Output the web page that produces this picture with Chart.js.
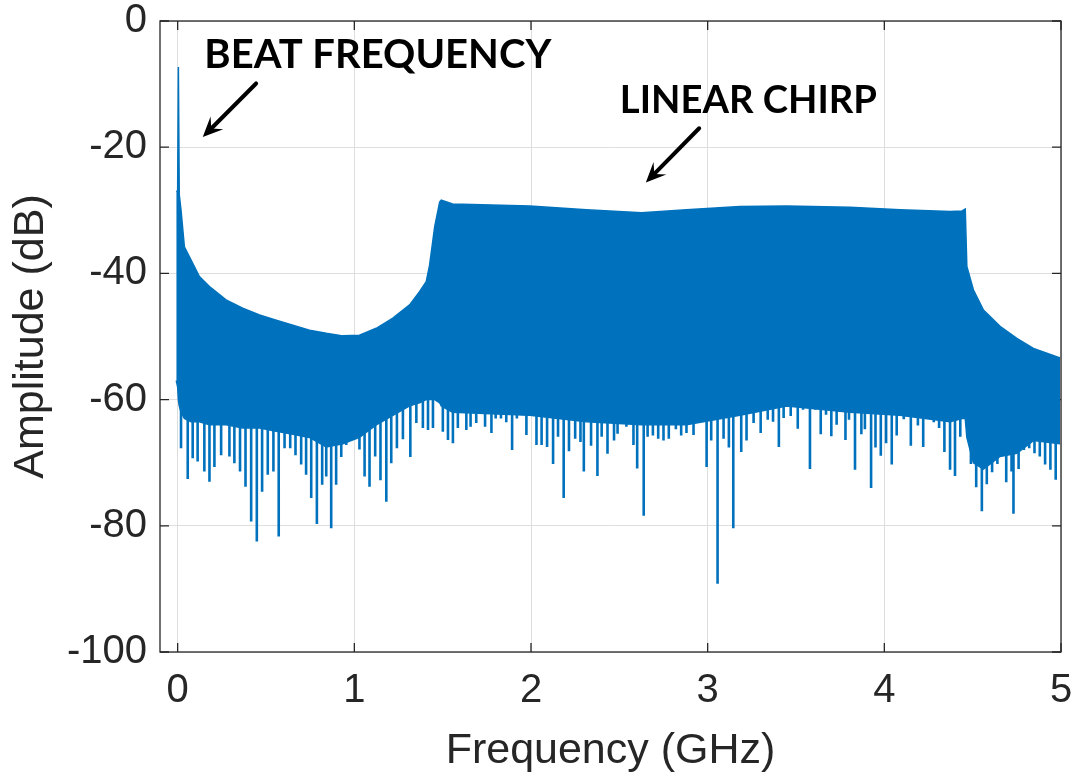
<!DOCTYPE html>
<html>
<head>
<meta charset="utf-8">
<script src="https://cdn.jsdelivr.net/npm/chart.js@4"></script>
<style>
html, body { margin: 0; padding: 0; background: #fff; }
#wrap { width: 1073px; height: 778px; }
</style>
</head>
<body>
<div id="wrap"><canvas id="spectrum" width="1073" height="778"></canvas></div>
<script>
// spectrum envelope (GHz / dB)
const freq = [
    -0.008, 0.0, 0.004, 0.009, 0.019, 0.038, 0.076, 0.123, 0.18, 0.274,
    0.368, 0.463, 0.558, 0.652, 0.746, 0.841, 0.935, 1.029, 1.124, 1.218,
    1.313, 1.369, 1.407, 1.426, 1.455, 1.483, 1.492, 1.556, 1.993, 2.314,
    2.626, 2.88, 3.182, 3.447, 3.806, 4.089, 4.373, 4.44, 4.458, 4.467,
    4.504, 4.561, 4.655, 4.75, 4.844, 4.995
];
const upperDb = [
    -27, -27, -7.3, -27.5, -30, -35.8, -37.9, -40.5, -42.1, -44.2,
    -45.5, -46.6, -47.4, -48.2, -49.0, -49.5, -49.9, -49.8, -48.7, -47.1,
    -45.0, -42.9, -41.3, -38.7, -32.6, -28.7, -28.4, -29.0, -29.3, -29.9,
    -30.4, -29.9, -29.4, -29.3, -29.5, -29.9, -30.2, -30.1, -29.8, -38.9,
    -42.6, -45.8, -48.4, -50.3, -51.9, -53.4
];
const lowerDb = [
    -57, -58, -60, -61, -62, -63, -63.5, -63.5, -64, -64,
    -64.5, -64.5, -65, -65.5, -66, -67.5, -67, -66, -64, -62.5,
    -61, -60.5, -60, -60, -60, -60.5, -61, -62, -62.5, -63.5,
    -64, -64, -62.5, -61, -62, -62.5, -63.5, -63, -63, -66,
    -70, -71, -69, -68.5, -66.5, -67
];

// downward spikes under the noise floor
const spikeFreq = [
    0.019, 0.057, 0.085, 0.113, 0.151, 0.180, 0.208, 0.246, 0.293, 0.321,
    0.353, 0.384, 0.416, 0.448, 0.478, 0.510, 0.542, 0.572, 0.605, 0.637,
    0.667, 0.699, 0.727, 0.756, 0.788, 0.818, 0.841, 0.869, 0.897, 0.926,
    0.954, 0.992, 1.029, 1.058, 1.086, 1.118, 1.148, 1.181, 1.209, 1.241,
    1.275, 1.317, 1.351, 1.388, 1.417, 1.445, 1.501, 1.530, 1.558, 1.586,
    1.634, 1.658, 1.69, 1.74, 1.776, 1.80, 1.83, 1.86, 1.893, 1.92,
    1.974, 2.031, 2.06, 2.091, 2.125, 2.153, 2.185, 2.215, 2.25, 2.28,
    2.299, 2.34, 2.376, 2.40, 2.433, 2.47, 2.49, 2.54, 2.58, 2.601,
    2.638, 2.66, 2.69, 2.72, 2.75, 2.78, 2.82, 2.85, 2.88, 2.92,
    2.994, 3.02, 3.056, 3.09, 3.12, 3.145, 3.19, 3.22, 3.26, 3.30,
    3.34, 3.37, 3.403, 3.43, 3.47, 3.51, 3.54, 3.579, 3.61, 3.64,
    3.67, 3.70, 3.73, 3.78, 3.80, 3.834, 3.87, 3.89, 3.925, 3.95,
    3.98, 4.01, 4.042, 4.07, 4.11, 4.15, 4.19, 4.22, 4.25, 4.28,
    4.31, 4.34, 4.372, 4.40, 4.43, 4.46, 4.49, 4.52, 4.552, 4.58,
    4.61, 4.64, 4.67, 4.69, 4.72, 4.731, 4.76, 4.79, 4.82, 4.85,
    4.88, 4.91, 4.94, 4.97
];
const spikeMinDb = [
    -67.7, -72.6, -69.3, -69.8, -71.4, -73.0, -70.7, -68.8, -69.0, -70.1,
    -71.4, -73.8, -79.3, -82.5, -74.6, -71.9, -71.4, -81.7, -67.7, -67.7,
    -68.8, -70.3, -71.9, -75.6, -79.7, -73.5, -72.2, -80.4, -73.5, -69.1,
    -67.2, -66.4, -67.9, -72.2, -73.8, -69.0, -72.8, -76.2, -70.1, -67.7,
    -66.3, -69.1, -63.7, -64.5, -64.8, -64.5, -65.1, -66.4, -66.9, -64.5,
    -64.8, -64.3, -63.7, -64.3, -65.3, -63.0, -63.0, -63.6, -68.0, -63.0,
    -65.6, -67.2, -67.2, -67.5, -70.2, -65.9, -75.6, -68.2, -66.2, -66.7,
    -71.4, -67.3, -72.1, -65.9, -68.6, -66.5, -65.4, -64.3, -67.2, -70.9,
    -78.4, -65.9, -65.7, -66.2, -66.5, -66.2, -64.7, -65.7, -65.3, -65.6,
    -70.7, -66.5, -89.2, -66.2, -67.6, -80.4, -68.3, -66.5, -63.7, -65.3,
    -63.2, -63.5, -67.5, -62.9, -62.6, -64.6, -61.6, -71.0, -61.6, -65.5,
    -62.4, -65.8, -64.0, -66.4, -63.2, -71.1, -65.5, -64.7, -74.0, -67.6,
    -68.9, -66.9, -70.3, -65.7, -63.1, -67.3, -64.1, -67.5, -62.0, -63.6,
    -64.5, -68.3, -71.1, -72.1, -65.9, -62.0, -70.2, -73.9, -77.7, -73.4,
    -71.5, -70.2, -68.9, -73.1, -71.4, -78.1, -71.0, -68.0, -67.7, -68.5,
    -69.0, -70.3, -71.1, -72.7
];
const spikeTopDb = -56;

const xTicks = [0, 1, 2, 3, 4, 5];
const yTicks = [0, -20, -40, -60, -80, -100];

const blue = '#0072BD';
const ink = '#262626';

const notes = [
    { text: 'BEAT FREQUENCY', x: 0.151, y: -7.5, width: 347, from: [0.444, -9.9], to: [0.142, -18.4] },
    { text: 'LINEAR CHIRP', x: 2.503, y: -14.6, width: 257, from: [2.952, -17.0], to: [2.650, -25.6] }
];

const spikeData = [];
spikeFreq.forEach((f, i) => {
    spikeData.push({ x: f, y: spikeTopDb }, { x: f, y: spikeMinDb[i] }, { x: f, y: null });
});

function drawArrow(ctx, x1, y1, x2, y2) {
    const ang = Math.atan2(y2 - y1, x2 - x1);
    const head = 22, spread = 0.42;
    ctx.lineWidth = 4;
    ctx.lineCap = 'round';
    ctx.beginPath();
    ctx.moveTo(x1, y1);
    ctx.lineTo(x2 - 10 * Math.cos(ang), y2 - 10 * Math.sin(ang));
    ctx.stroke();
    ctx.beginPath();
    ctx.moveTo(x2, y2);
    ctx.lineTo(x2 - head * Math.cos(ang - spread), y2 - head * Math.sin(ang - spread));
    ctx.lineTo(x2 - head * 0.55 * Math.cos(ang), y2 - head * 0.55 * Math.sin(ang));
    ctx.lineTo(x2 - head * Math.cos(ang + spread), y2 - head * Math.sin(ang + spread));
    ctx.closePath();
    ctx.fill();
}

const axesBox = {
    id: 'axesBox',
    beforeDatasetsDraw(chart) {
        const { ctx, chartArea: a, scales: { x, y } } = chart;
        ctx.save();
        ctx.strokeStyle = ink;
        ctx.lineWidth = 1.3;
        ctx.beginPath();
        xTicks.forEach(v => {
            const px = x.getPixelForValue(v);
            ctx.moveTo(px, a.bottom); ctx.lineTo(px, a.bottom - 9);
            ctx.moveTo(px, a.top); ctx.lineTo(px, a.top + 9);
        });
        yTicks.forEach(v => {
            const py = y.getPixelForValue(v);
            ctx.moveTo(a.left, py); ctx.lineTo(a.left + 9, py);
            ctx.moveTo(a.right, py); ctx.lineTo(a.right - 9, py);
        });
        ctx.stroke();
        ctx.restore();
    },
    afterDatasetsDraw(chart) {
        const { ctx, chartArea: a, scales: { x, y } } = chart;
        ctx.save();
        ctx.strokeStyle = ink;
        ctx.lineWidth = 1.3;
        ctx.strokeRect(a.left, a.top, a.right - a.left, a.bottom - a.top);

        ctx.fillStyle = '#000';
        ctx.strokeStyle = '#000';
        ctx.textBaseline = 'alphabetic';
        ctx.textAlign = 'left';
        notes.forEach(n => {
            ctx.font = 'bold 40px Lato';
            const size = 40 * n.width / ctx.measureText(n.text).width;
            ctx.font = 'bold ' + size.toFixed(1) + 'px Lato';
            ctx.fillText(n.text, x.getPixelForValue(n.x), y.getPixelForValue(n.y));
            drawArrow(ctx,
                x.getPixelForValue(n.from[0]), y.getPixelForValue(n.from[1]),
                x.getPixelForValue(n.to[0]), y.getPixelForValue(n.to[1]));
        });
        ctx.restore();
    }
};

const tickFont = { family: 'Liberation Sans, Arial, sans-serif', size: 40, lineHeight: 1 };
const titleFont = { family: 'Liberation Sans, Arial, sans-serif', size: 43 };

const config = {
    type: 'line',
    data: {
        datasets: [
            {
                data: freq.map((f, i) => ({ x: f, y: lowerDb[i] })),
                borderColor: blue,
                borderWidth: 1.5,
                pointRadius: 0,
                fill: false,
                tension: 0
            },
            {
                data: freq.map((f, i) => ({ x: f, y: upperDb[i] })),
                borderColor: blue,
                backgroundColor: blue,
                borderWidth: 1.5,
                pointRadius: 0,
                fill: '-1',
                tension: 0
            },
            {
                data: spikeData,
                borderColor: blue,
                borderWidth: 2.6,
                borderCapStyle: 'butt',
                pointRadius: 0,
                fill: false,
                spanGaps: false,
                tension: 0
            }
        ]
    },
    options: {
        responsive: false,
        animation: false,
        devicePixelRatio: 1,
        layout: { padding: { top: 21, right: 12, left: 0, bottom: 0 } },
        plugins: {
            legend: { display: false },
            tooltip: { enabled: false }
        },
        scales: {
            x: {
                type: 'linear',
                min: -0.1,
                max: 5,
                afterBuildTicks: s => { s.ticks = xTicks.map(v => ({ value: v })); },
                afterFit: s => { s.height = 126; s.paddingLeft = 0; s.paddingRight = 0; },
                ticks: { color: ink, font: tickFont, padding: 19, maxRotation: 0 },
                grid: { color: '#dedede', lineWidth: 1, drawTicks: false },
                border: { display: false },
                title: { display: true, text: 'Frequency (GHz)', color: ink, font: titleFont, padding: { top: 0, bottom: 1 } }
            },
            y: {
                min: -100,
                max: 0,
                afterBuildTicks: s => { s.ticks = yTicks.map(v => ({ value: v })); },
                afterFit: s => { s.width = 160; s.paddingTop = 0; s.paddingBottom = 0; },
                ticks: { color: ink, font: tickFont, padding: 13 },
                grid: { color: '#dedede', lineWidth: 1, drawTicks: false },
                border: { display: false },
                title: { display: true, text: 'Amplitude (dB)', color: ink, font: titleFont, padding: { top: 5, bottom: 0 } }
            }
        }
    },
    plugins: [axesBox]
};

const spectrumChart = new Chart(document.getElementById('spectrum'), config);
</script>
</body>
</html>
